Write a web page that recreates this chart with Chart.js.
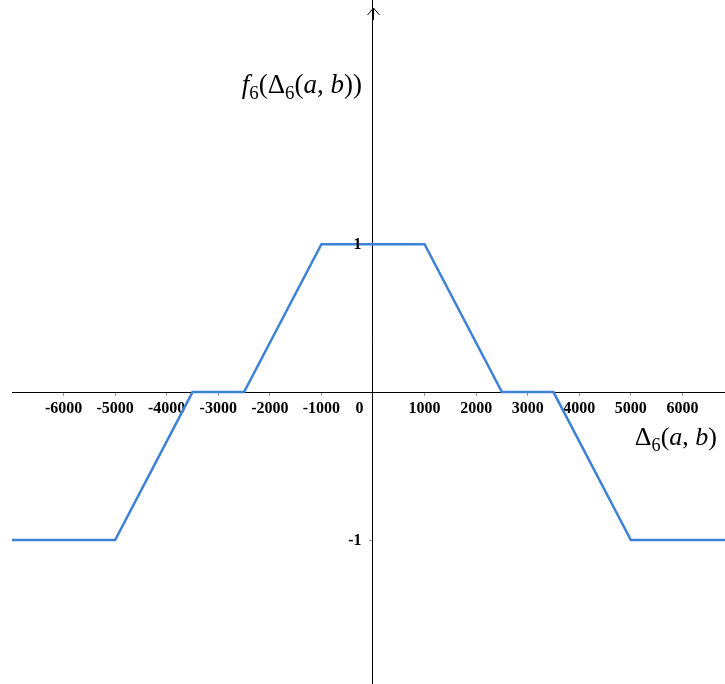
<!DOCTYPE html>
<html>
<head>
<meta charset="utf-8">
<script src="https://cdn.jsdelivr.net/npm/chart.js@4/dist/chart.umd.min.js"></script>
<style>
  html, body { margin: 0; padding: 0; background: #fff; }
  #wrap { width: 725px; height: 684px; }
</style>
</head>
<body>
<div id="wrap"><canvas id="chart"></canvas></div>
<script>
// data
const xValues = [-7000, -5000, -3500, -2500, -1000, 1000, 2500, 3500, 5000, 7000];
const yValues = [-1, -1, 0, 0, 1, 1, 0, 0, -1, -1];
const xTicks = [-6000, -5000, -4000, -3000, -2000, -1000, 1000, 2000, 3000, 4000, 5000, 6000];
const yTicks = [-1, 1];

const serif = '"Liberation Serif", "DejaVu Serif", serif';

// draws a math-like label: parts are [text, italic, subscript]
function mathText(ctx, parts, x, y, size, alignRight) {
    let w = 0;
    const widths = parts.map(p => {
        ctx.font = (p[1] ? 'italic ' : '') + (p[2] ? size * 0.7 : size) + 'px ' + serif;
        const m = ctx.measureText(p[0]).width;
        w += m;
        return m;
    });
    let cx = alignRight ? x - w : x;
    parts.forEach((p, i) => {
        ctx.font = (p[1] ? 'italic ' : '') + (p[2] ? size * 0.7 : size) + 'px ' + serif;
        ctx.fillText(p[0], cx, p[2] ? y + size * 0.22 : y);
        cx += widths[i];
    });
}

// keep scales from reserving room for their labels
const noPad = axis => {
    axis.paddingTop = 0;
    axis.paddingBottom = 0;
    axis.paddingLeft = 0;
    axis.paddingRight = 0;
};

const axisExtras = {
    id: 'axisExtras',
    afterDraw(chart) {
        const ctx = chart.ctx;
        const xs = chart.scales.x, ys = chart.scales.y;
        const x0 = Math.round(xs.getPixelForValue(0)) + 0.5;
        const y0 = ys.getPixelForValue(0);
        ctx.save();
        ctx.strokeStyle = '#000';
        ctx.lineWidth = 1;
        // arrow at top of y axis
        ctx.beginPath();
        ctx.moveTo(x0 - 6, 15);
        ctx.lineTo(x0, 8);
        ctx.lineTo(x0 + 6, 15);
        ctx.moveTo(x0, 8);
        ctx.lineTo(x0, 20);
        ctx.stroke();
        ctx.fillStyle = '#000';
        ctx.textBaseline = 'alphabetic';
        // origin label
        ctx.font = 'bold 16px ' + serif;
        ctx.textAlign = 'center';
        ctx.fillText('0', x0 - 14, y0 + 21);
        // y tick labels, left of the axis
        ctx.textAlign = 'right';
        ctx.textBaseline = 'middle';
        yTicks.forEach(v => ctx.fillText(String(v), x0 - 12, ys.getPixelForValue(v) + 1));
        ctx.textAlign = 'left';
        ctx.textBaseline = 'alphabetic';
        // axis titles
        mathText(ctx, [['f', true], ['6', false, true], ['(Δ', false], ['6', false, true], ['(', false], ['a', true], [', ', false], ['b', true], ['))', false]], 362, 93, 27, true);
        mathText(ctx, [['Δ', false], ['6', false, true], ['(', false], ['a', true], [', ', false], ['b', true], [')', false]], 717, 445, 26, true);
        ctx.restore();
    }
};

new Chart(document.getElementById('chart'), {
    type: 'scatter',
    data: {
        datasets: [{
            data: xValues.map((x, i) => ({ x: x, y: yValues[i] })),
            showLine: true,
            borderColor: '#3d82d6',
            borderWidth: 2.5,
            pointRadius: 0,
            fill: false
        }]
    },
    options: {
        responsive: true,
        maintainAspectRatio: false,
        animation: false,
        layout: { padding: { left: 12, right: 0, top: 0, bottom: 0 } },
        plugins: { legend: { display: false }, tooltip: { enabled: false } },
        scales: {
            x: {
                type: 'linear',
                min: -7000,
                max: 6826,
                position: { y: 0 },
                afterFit: noPad,
                afterBuildTicks: axis => { axis.ticks = xTicks.map(v => ({ value: v })); },
                grid: { drawOnChartArea: false, drawTicks: true, tickLength: 3, color: '#999' },
                border: { display: true, color: '#000', width: 1 },
                ticks: {
                    color: '#000',
                    font: { family: serif, size: 16, weight: 'bold' },
                    padding: 4,
                    maxRotation: 0,
                    autoSkip: false,
                    callback: v => String(v)
                }
            },
            y: {
                type: 'linear',
                min: -1.973,
                max: 2.65,
                position: { x: 0 },
                afterFit: noPad,
                afterBuildTicks: axis => { axis.ticks = yTicks.map(v => ({ value: v })); },
                grid: { drawOnChartArea: false, drawTicks: true, tickLength: 3, color: '#999' },
                border: { display: true, color: '#000', width: 1 },
                ticks: { display: false }
            }
        }
    },
    plugins: [axisExtras]
});
</script>
</body>
</html>
